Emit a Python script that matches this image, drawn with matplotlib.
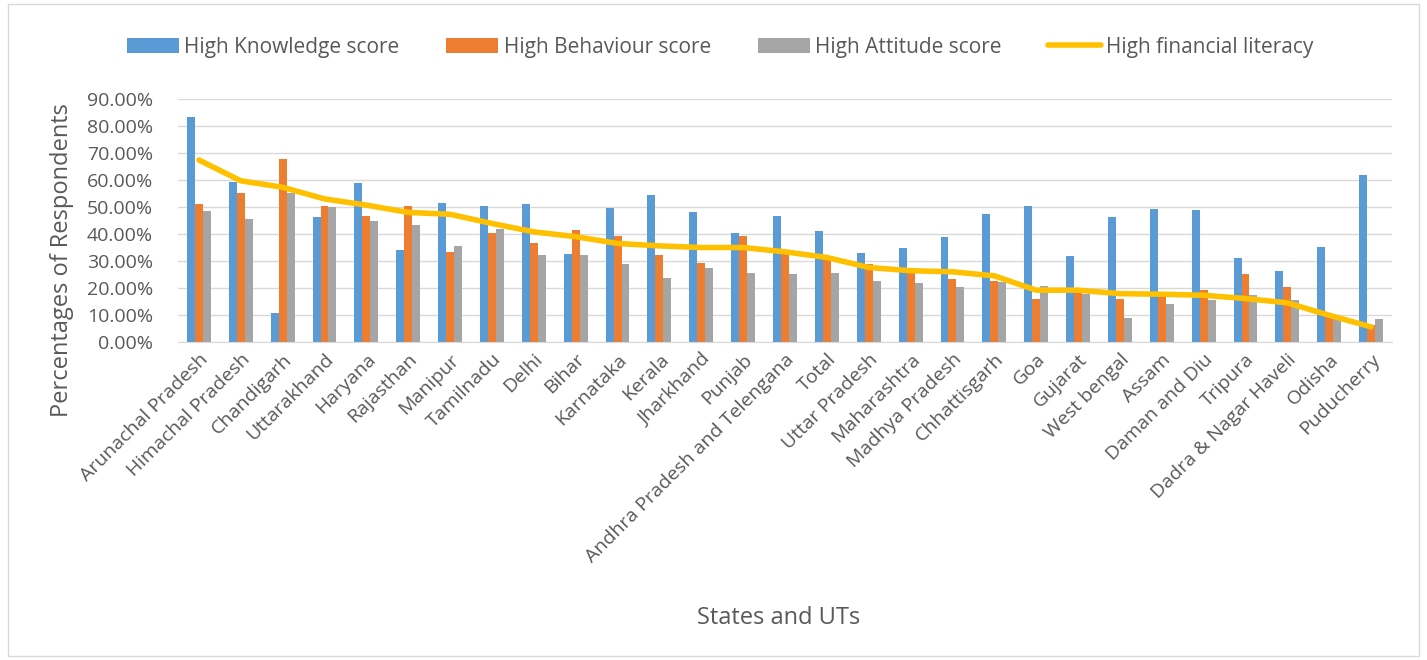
import numpy as np
import matplotlib.pyplot as plt
from matplotlib.patches import Rectangle
from matplotlib.ticker import PercentFormatter

states = ["Arunachal Pradesh", "Himachal Pradesh", "Chandigarh", "Uttarakhand", "Haryana",
          "Rajasthan", "Manipur", "Tamilnadu", "Delhi", "Bihar", "Karnataka", "Kerala",
          "Jharkhand", "Punjab", "Andhra Pradesh and Telengana", "Total", "Uttar Pradesh",
          "Maharashtra", "Madhya Pradesh", "Chhattisgarh", "Goa", "Gujarat", "West bengal",
          "Assam", "Daman and Diu", "Tripura", "Dadra & Nagar Haveli", "Odisha", "Puducherry"]

knowledge = [83.2, 59.2, 10.8, 46.2, 58.8, 34.2, 51.5, 50.5, 51.2, 32.7, 49.6, 54.3,
             48.0, 40.3, 46.7, 41.0, 33.0, 35.0, 39.0, 47.3, 50.4, 31.7, 46.2,
             49.3, 48.9, 31.2, 26.4, 35.3, 61.8]
behaviour = [51.0, 55.2, 67.9, 50.5, 46.7, 50.4, 33.5, 40.5, 36.5, 41.6, 39.1, 32.1,
             29.2, 39.2, 32.8, 30.9, 28.8, 26.0, 23.3, 22.5, 16.0, 19.2, 16.0,
             17.3, 19.2, 25.1, 20.4, 9.3, 6.2]
attitude = [48.5, 45.5, 55.1, 50.0, 45.0, 43.3, 35.5, 41.7, 32.1, 32.2, 29.0, 23.8,
            27.5, 25.7, 25.1, 25.5, 22.5, 21.8, 20.3, 22.3, 20.7, 17.9, 9.0,
            13.9, 15.5, 17.3, 15.5, 8.7, 8.4]
literacy = [67.4, 59.7, 57.3, 53.0, 50.7, 48.0, 47.3, 43.9, 40.8, 39.0, 36.5, 35.6,
            35.0, 35.0, 33.4, 31.3, 27.6, 26.4, 26.0, 24.5, 19.2, 19.2, 17.9,
            17.7, 17.3, 16.1, 14.5, 9.9, 5.6]

text_col = "#595959"
plt.rcParams['font.family'] = ['Open Sans', 'DejaVu Sans']

W, H = 1427, 660
fig = plt.figure(figsize=(W / 100, H / 100), dpi=100)
ax = fig.add_axes([178 / W, 1 - 342 / H, (1392 - 178) / W, (342 - 99) / H])

x = np.arange(len(states))
w = 0.19
b1 = ax.bar(x - w, knowledge, w, color="#5B9BD5", label="High Knowledge score", zorder=2)
b2 = ax.bar(x, behaviour, w, color="#ED7D31", label="High Behaviour score", zorder=2)
b3 = ax.bar(x + w, attitude, w, color="#A5A5A5", label="High Attitude score", zorder=2)
ln, = ax.plot(x, literacy, color="#FFC000", linewidth=4, label="High financial literacy",
              zorder=3, solid_capstyle="round")

ax.set_xlim(-0.5, len(states) - 0.5)
ax.set_ylim(0, 90)
ax.set_yticks(np.arange(0, 91, 10))
ax.yaxis.set_major_formatter(PercentFormatter(decimals=2))
ax.grid(axis="y", color="#D9D9D9", linewidth=1, zorder=0)
for s in ["top", "right", "left"]:
    ax.spines[s].set_visible(False)
ax.spines["bottom"].set_color("#D9D9D9")
ax.tick_params(axis="both", length=0, colors=text_col, labelsize=14)
ax.tick_params(axis="y", pad=18)
ax.set_xticks(x)
ax.set_xticklabels(states, rotation=45, ha="right", rotation_mode="anchor")
ax.tick_params(axis="x", pad=6)

fig.text(62 / W, 1 - 260 / H, "Percentages of Respondents", fontsize=17, color=text_col,
         rotation=90, ha="center", va="center")
fig.text(779 / W, 1 - 618 / H, "States and UTs", fontsize=17,
         color=text_col, ha="center", va="center")

fig.legend(handles=[b1, b2, b3, ln], loc="center", bbox_to_anchor=(720 / W, 1 - 47 / H),
           ncol=4, frameon=False, fontsize=15, labelcolor=text_col,
           handlelength=2.5, handletextpad=0.25, columnspacing=2.25)

fig.patches.append(Rectangle((8 / W, 4 / H), 1411 / W, 652 / H,
                             transform=fig.transFigure, fill=False,
                             edgecolor="#D9D9D9", linewidth=1))

fig.savefig("out.png", dpi=100)
